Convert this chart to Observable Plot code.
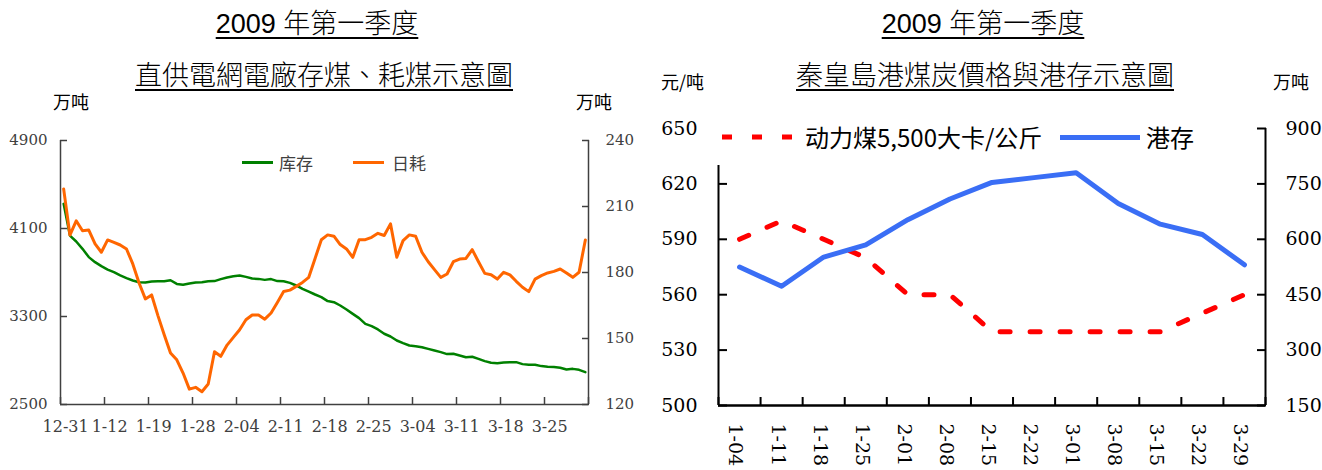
<!DOCTYPE html>
<html>
<head>
<meta charset="utf-8">
<script src="https://cdn.jsdelivr.net/npm/d3@7"></script>
<script src="https://cdn.jsdelivr.net/npm/@observablehq/plot@0.6"></script>
<style>
  html, body { margin: 0; padding: 0; background: #fff; }
  #wrap { display: flex; width: 1322px; height: 470px; overflow: hidden; }
  .fig { position: relative; height: 470px; flex: none; }
  .head { height: 95px; }
  .t { position: absolute; transform: translateX(-50%); white-space: nowrap;
       font-family: "Liberation Sans", "Noto Sans CJK TC", sans-serif; font-size: 27px; line-height: 27px; font-weight: 300;
       color: #000; text-decoration: underline; text-decoration-thickness: 2px; text-underline-offset: 4px; }
  .u { position: absolute; white-space: nowrap; font-family: "Noto Sans CJK SC", sans-serif; font-size: 18px; line-height: 18px; color: #000; }
  .lgbox { position: absolute; background: #fff; z-index: 2; }
  .lgline { position: absolute; }
  .lgtxt { position: absolute; white-space: nowrap; font-family: "Noto Sans CJK SC", sans-serif; }
  svg { display: block; }
</style>
</head>
<body>
<div id="wrap">
  <div class="fig" id="figL" style="width:660px">
    <div class="t" style="left:317px; top:11px">2009 年第一季度</div>
    <div class="t" style="left:324px; top:63px">直供電網電廠存煤、耗煤示意圖</div>
    <div class="u" style="left:53px; top:92px">万吨</div>
    <div class="u" style="left:576px; top:92px">万吨</div>
    <div class="lgline" style="left:242px; top:161px; width:31px; height:3px; background:#008000"></div>
    <div class="lgtxt" style="left:279px; top:154px; font-size:17px; line-height:17px; color:#404040">库存</div>
    <div class="lgline" style="left:353px; top:161px; width:31px; height:3px; background:#ff6600"></div>
    <div class="lgtxt" style="left:392px; top:154px; font-size:17px; line-height:17px; color:#404040">日耗</div>
    <div class="head"></div>
    <div id="chartL"></div>
  </div>
  <div class="fig" id="figR" style="width:662px">
    <div class="t" style="left:323px; top:11px">2009 年第一季度</div>
    <div class="t" style="left:325px; top:63px">秦皇島港煤炭價格與港存示意圖</div>
    <div class="u" style="left:1px; top:72px">元/吨</div>
    <div class="u" style="left:613px; top:72px">万吨</div>
    <div class="lgbox" style="left:52px; top:119px; width:490px; height:46px">
      <svg class="lgline" style="left:10px; top:15px" width="72" height="6"><line x1="0" y1="3" x2="72" y2="3" stroke="#ff0000" stroke-width="5" stroke-dasharray="10,20"></line></svg>
      <div class="lgtxt" style="left:93px; top:6px; font-size:24px; line-height:24px; color:#000">动力煤5,500大卡/公斤</div>
      <div class="lgline" style="left:348px; top:16px; width:80px; height:5px; background:#3a6ef5"></div>
      <div class="lgtxt" style="left:434px; top:6px; font-size:24px; line-height:24px; color:#000">港存</div>
    </div>
    <div class="head"></div>
    <div id="chartR"></div>
  </div>
</div>
<script>
// ---------- Left chart data: 直供電網電廠存煤、耗煤 ----------
const leftDates = ["12-31","1-12","1-19","1-28","2-04","2-11","2-18","2-25","3-04","3-11","3-18","3-25"];
const stockDaily = [
  4324,4036,3982,3915,3840,3794,3758,3727,3703,3673,
  3649,3627,3612,3610,3618,3620,3620,3630,3596,3588,
  3600,3610,3612,3620,3622,3640,3655,3665,3672,3660,
  3645,3642,3633,3640,3622,3620,3606,3582,3552,3527,
  3500,3476,3440,3430,3400,3364,3324,3285,3233,3212,
  3182,3143,3118,3082,3058,3036,3030,3021,3006,2991,
  2976,2958,2961,2946,2930,2934,2915,2894,2879,2876,
  2882,2885,2885,2867,2861,2861,2849,2843,2840,2834,
  2818,2824,2815,2794
];
const burnDaily = [
  218,197,203.5,199,199.3,193,189.2,194.8,193.7,192.5,
  190.7,183.9,175.2,168,169.8,160.4,151.7,143.4,140.3,134.3,
  127,127.8,125.8,129.3,144,141.9,147,150.5,154,158.5,
  160.7,160.7,158.8,161.6,166.4,171.4,172,173.7,175.5,177.8,
  186.4,194.9,197.1,196.5,192.7,190.7,186.9,194.9,194.9,196,
  197.8,196.8,202.1,186.9,194.5,197.1,196.5,189.2,184.9,181.3,
  177.8,179.3,184.9,186.1,186.4,190.4,184.9,179.6,179,177,
  180.1,178.9,176,173.3,171.3,177,178.6,179.8,180.5,181.6,
  179.8,177.8,180.1,194.8
];
const leftStockTicks = [2500, 3300, 4100, 4900];
const leftBurnTicks = [120, 150, 180, 210, 240];

// ---------- Right chart data: 秦皇島港煤炭價格與港存 ----------
const weeks = ["1-04","1-11","1-18","1-25","2-01","2-08","2-15","2-22","3-01","3-08","3-15","3-22","3-29"];
const price5500 = [590,600,590,580,560,560,540,540,540,540,540,550,560];
const portStock = [525,473,552,585,653,709,754,767,780,697,641,613,531];
const priceTicks = [500, 530, 560, 590, 620, 650];
const portTicks = [150, 300, 450, 600, 750, 900];

// ---------- Left chart ----------
const perTick = 7;
const nL = stockDaily.length;
const burnToStock = d3.scaleLinear([leftBurnTicks[0], leftBurnTicks[leftBurnTicks.length-1]],
                                   [leftStockTicks[0], leftStockTicks[leftStockTicks.length-1]]);
const leftBounds = d3.range(0, nL + 1, perTick).map(k => k - 0.5);
const leftLabelIdx = leftDates.map((d, k) => k * perTick);
const idxL = d3.range(nL);

const left = Plot.plot({
  width: 660, height: 375,
  marginLeft: 60, marginRight: 72, marginTop: 45, marginBottom: 66,
  style: {fontFamily: "DejaVu Serif", fontSize: "15px", color: "#404040", background: "transparent", overflow: "visible"},
  x: {type: "linear", domain: [-0.5, nL - 0.5]},
  y: {domain: [leftStockTicks[0], leftStockTicks[leftStockTicks.length-1]]},
  marks: [
    Plot.axisY({anchor: "left", ticks: leftStockTicks, tickFormat: d => String(d), tickSize: -7, tickPadding: 20, strokeWidth: 1.5, label: null, fontSize: 15}),
    Plot.axisY({anchor: "right", ticks: leftBurnTicks.map(burnToStock), tickFormat: d => String(Math.round(burnToStock.invert(d))), tickSize: -7, tickPadding: 24, strokeWidth: 1.5, label: null, fontSize: 15}),
    Plot.axisX({ticks: leftBounds, tickSize: -7, tickFormat: () => "", strokeWidth: 1.5, label: null}),
    Plot.axisX({ticks: leftLabelIdx, tickSize: 0, tickPadding: 16, tickFormat: i => leftDates[i / perTick], label: null, fontSize: 16, dx: 2}),
    Plot.ruleX([-0.5, nL - 0.5], {stroke: "#404040", strokeWidth: 1.5}),
    Plot.ruleY([leftStockTicks[0]], {stroke: "#404040", strokeWidth: 1.5}),
    Plot.line(idxL, {x: i => i, y: i => stockDaily[i], stroke: "#008000", strokeWidth: 2.5}),
    Plot.line(idxL, {x: i => i, y: i => burnToStock(burnDaily[i]), stroke: "#ff6600", strokeWidth: 3})
  ]
});
document.getElementById("chartL").appendChild(left);

// ---------- Right chart ----------
const nR = weeks.length;
const portToPrice = d3.scaleLinear([portTicks[0], portTicks[portTicks.length-1]],
                                   [priceTicks[0], priceTicks[priceTicks.length-1]]);
const idxR = d3.range(nR);
const right = Plot.plot({
  width: 662, height: 375,
  marginLeft: 58, marginRight: 57, marginTop: 33, marginBottom: 65,
  style: {fontFamily: "DejaVu Serif", fontSize: "19px", color: "#000", background: "transparent", overflow: "visible"},
  x: {type: "linear", domain: [-0.5, nR - 0.5]},
  y: {domain: [priceTicks[0], priceTicks[priceTicks.length-1]]},
  marks: [
    Plot.axisY({anchor: "left", ticks: priceTicks, tickFormat: d => String(d), tickSize: -9, tickPadding: 30, strokeWidth: 2, label: null, fontSize: 19}),
    Plot.axisY({anchor: "right", ticks: portTicks.map(portToPrice), tickFormat: d => String(Math.round(portToPrice.invert(d))), tickSize: -9, tickPadding: 29, strokeWidth: 2, label: null, fontSize: 19}),
    Plot.axisX({ticks: d3.range(nR + 1).map(k => k - 0.5), tickSize: -8, tickFormat: () => "", strokeWidth: 2, label: null}),
    Plot.axisX({ticks: idxR, tickSize: 0, tickPadding: 18, tickRotate: 90, tickFormat: i => weeks[i], label: null, fontSize: 19, dx: -4}),
    Plot.ruleX([-0.5, nR - 0.5], {stroke: "#000", strokeWidth: 2}),
    Plot.ruleY([priceTicks[0]], {stroke: "#000", strokeWidth: 2.5}),
    Plot.line(idxR, {x: i => i, y: i => price5500[i], stroke: "#ff0000", strokeWidth: 5, strokeDasharray: "10,20"}),
    Plot.line(idxR, {x: i => i, y: i => portToPrice(portStock[i]), stroke: "#3a6ef5", strokeWidth: 5})
  ]
});
document.getElementById("chartR").appendChild(right);
</script>
</body>
</html>
